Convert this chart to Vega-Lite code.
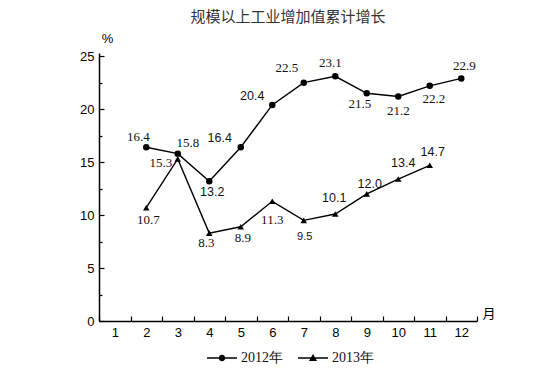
{
  "$schema": "https://vega.github.io/schema/vega-lite/v6.json",
  "width": 378,
  "height": 268,
  "autosize": "none",
  "padding": {"left": 99, "top": 53, "right": 77, "bottom": 65},
  "background": "white",
  "title": {"text": "规模以上工业增加值累计增长", "font": "Noto Sans CJK SC", "fontSize": 15, "fontWeight": "normal", "color": "#333333", "offset": 7, "anchor": "middle"},
  "config": {"view": {"stroke": null}},
  "data": {"values": [
    {"series": "2012年", "month": 2, "value": 16.4},
    {"series": "2012年", "month": 3, "value": 15.8},
    {"series": "2012年", "month": 4, "value": 13.2},
    {"series": "2012年", "month": 5, "value": 16.4},
    {"series": "2012年", "month": 6, "value": 20.4},
    {"series": "2012年", "month": 7, "value": 22.5},
    {"series": "2012年", "month": 8, "value": 23.1},
    {"series": "2012年", "month": 9, "value": 21.5},
    {"series": "2012年", "month": 10, "value": 21.2},
    {"series": "2012年", "month": 11, "value": 22.2},
    {"series": "2012年", "month": 12, "value": 22.9},
    {"series": "2013年", "month": 2, "value": 10.7},
    {"series": "2013年", "month": 3, "value": 15.3},
    {"series": "2013年", "month": 4, "value": 8.3},
    {"series": "2013年", "month": 5, "value": 8.9},
    {"series": "2013年", "month": 6, "value": 11.3},
    {"series": "2013年", "month": 7, "value": 9.5},
    {"series": "2013年", "month": 8, "value": 10.1},
    {"series": "2013年", "month": 9, "value": 12.0},
    {"series": "2013年", "month": 10, "value": 13.4},
    {"series": "2013年", "month": 11, "value": 14.7}
  ]},
  "encoding": {
    "x": {
      "field": "month", "type": "quantitative",
      "scale": {"domain": [0.5, 12.5], "nice": false, "zero": false},
      "axis": {
        "values": [0.5, 1.5, 2.5, 3.5, 4.5, 5.5, 6.5, 7.5, 8.5, 9.5, 10.5, 11.5, 12.5],
        "labelExpr": "datum.value < 12 ? '' + (datum.value + 0.5) : ''",
        "labelOffset": 15.75,
        "labelFlush": false,
        "labelOverlap": false,
        "tickSize": -5,
        "tickWidth": 1.2,
        "tickColor": "black",
        "domainColor": "black",
        "domainWidth": 1.5,
        "labelFont": "Liberation Sans",
        "labelFontSize": 13,
        "labelColor": "black",
        "labelPadding": 10,
        "grid": false,
        "title": "月",
        "titleX": 383,
        "titleY": -8,
        "titleAlign": "left",
        "titleAngle": 0,
        "titleBaseline": "middle",
        "titleFont": "Noto Sans CJK SC",
        "titleFontSize": 13,
        "titleFontWeight": "normal",
        "titleColor": "black"
      }
    },
    "y": {
      "field": "value", "type": "quantitative",
      "scale": {"domain": [0, 25.3], "nice": false},
      "axis": {
        "values": [0, 2.5, 5, 7.5, 10, 12.5, 15, 17.5, 20, 22.5, 25],
        "labelExpr": "datum.value % 5 === 0 ? datum.label : ''",
        "tickSize": {"condition": {"test": "datum.value % 5 === 0", "value": -5}, "value": -3},
        "tickWidth": 1.2,
        "tickColor": "black",
        "domainColor": "black",
        "domainWidth": 1.5,
        "labelFont": "Liberation Sans",
        "labelFontSize": 13,
        "labelColor": "black",
        "labelPadding": 10,
        "grid": false,
        "title": "%",
        "titleX": 8,
        "titleY": -15,
        "titleAlign": "center",
        "titleAngle": 0,
        "titleBaseline": "middle",
        "titleFont": "Liberation Sans",
        "titleFontSize": 13,
        "titleFontWeight": "normal",
        "titleColor": "black"
      }
    }
  },
  "layer": [
    {
      "mark": {"type": "line", "color": "black", "strokeWidth": 1.4},
      "encoding": {"detail": {"field": "series", "type": "nominal"}}
    },
    {
      "mark": {"type": "point", "filled": true, "color": "black", "opacity": 1, "size": 42},
      "encoding": {
        "shape": {"field": "series", "type": "nominal", "scale": {"domain": ["2012年", "2013年"], "range": ["circle", "triangle-up"]}, "legend": null}
      }
    },
    {
      "transform": [{"filter": "datum.series === '2012年'"}],
      "mark": {
        "type": "text", "align": "center", "baseline": "middle", "color": "#111111",
        "dx": {"expr": "[0,0,-8,10,3,-21,-20,-17,-5,-7,0,4,3][datum.month]"},
        "dy": {"expr": "[0,0,-10,-11,11,-9,-9,-15,-13,11,15,13,-12][datum.month]"},
        "font": {"expr": "indexof([4,5,6], datum.month) >= 0 ? 'Liberation Sans' : 'Liberation Serif'"},
        "fontSize": {"expr": "indexof([4,5,6], datum.month) >= 0 ? 12.5 : 13"}
      },
      "encoding": {"text": {"field": "value", "type": "quantitative", "format": ".1f"}}
    },
    {
      "transform": [{"filter": "datum.series === '2013年'"}],
      "mark": {
        "type": "text", "align": "center", "baseline": "middle", "color": "#111111",
        "dx": {"expr": "[0,0,2,-17,-3,2,0,1,-1,3,5,3][datum.month]"},
        "dy": {"expr": "[0,0,12,4,10,11,19,17,-16,-10,-16,-13][datum.month]"},
        "font": {"expr": "datum.month >= 7 ? 'Liberation Sans' : 'Liberation Serif'"},
        "fontSize": {"expr": "datum.month === 7 ? 11 : (datum.month > 7 ? 12.5 : 13)"}
      },
      "encoding": {"text": {"field": "value", "type": "quantitative", "format": ".1f"}}
    },
    {
      "transform": [{"filter": "false"}],
      "mark": {"type": "point", "filled": true, "color": "black", "opacity": 1, "size": 900},
      "encoding": {
        "shape": {
          "field": "series", "type": "nominal",
          "scale": {"domain": ["2012年", "2013年"], "range": [
            "M-1,-0.05H-0.21V0.05H-1ZM0.21,-0.05H1V0.05H0.21ZM-0.22,0A0.22,0.22,0,1,1,0.22,0A0.22,0.22,0,1,1,-0.22,0Z",
            "M-1,-0.05H-0.12V0.05H-1ZM0.12,-0.05H1V0.05H0.12ZM-0.27,0.2L0,-0.27L0.27,0.2Z"
          ]},
          "legend": {
            "orient": "none", "legendX": 107, "legendY": 289, "direction": "horizontal",
            "title": null, "padding": 0, "symbolSize": 900,
            "symbolFillColor": "black",
            "labelFont": "Liberation Serif", "labelFontSize": 14, "labelColor": "#111111",
            "labelOffset": 3, "columnPadding": 12
          }
        }
      }
    }
  ],
  "resolve": {"scale": {"shape": "independent"}, "legend": {"shape": "independent"}}
}
